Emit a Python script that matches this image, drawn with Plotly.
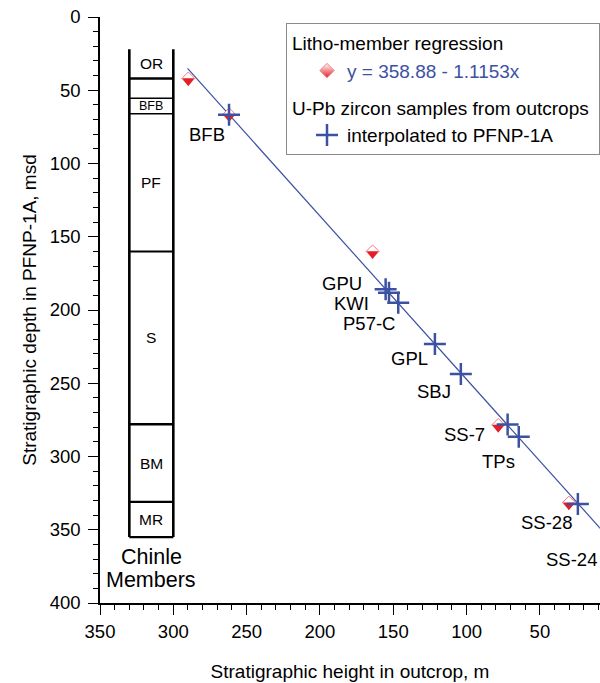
import plotly.graph_objects as go

# ---------------- data ----------------
# Chinle members (depth in PFNP-1A, msd)
member_names = ["OR", "", "BFB", "PF", "S", "BM", "MR"]
member_tops = [22, 42, 55.5, 66, 160, 278, 331]
member_bottoms = [42, 55.5, 66, 160, 278, 331, 355]

# Litho-member regression points (outcrop height m, core depth msd)
litho_height = [289.8, 261.9, 164.1, 78.4, 30.2]
litho_depth = [42, 66.5, 160, 278.5, 331.5]

# U-Pb zircon samples interpolated to PFNP-1A
sample_names = ["BFB", "GPU", "KWI", "P57-C", "GPL", "SBJ", "SS-7", "TPs", "SS-28", "SS-24"]
sample_height = [262.0, 155.2, 152.9, 146.6, 121.6, 103.9, 72.0, 64.4, 24.1, 1.0]
sample_depth = [66.8, 185.9, 188.2, 195.0, 223.2, 243.7, 278.1, 286.6, 332.5, 358.0]

# regression y = 358.88 - 1.1153x
reg_intercept = 358.88
reg_slope = -1.1153
reg_x_ends = [290.3, 0.0]

# ---------------- layout constants ----------------
W, H = 600, 683
ML, MR, MT, MB = 100, 0, 17, 80
X_RANGE = [350, 9]
Y_RANGE = [400, 0]
PX_PER_UNIT = (H - MT - MB) / 400.0
FONT = "Liberation Sans, Arial, Helvetica, sans-serif"
FS = 18.5
LFS = 19
BLUE = "#3d51a3"
RED = "#e31e24"
PINK = "#ef7a7c"

COL_LEFT, COL_RIGHT = 330, 300
COL_MID = (COL_LEFT + COL_RIGHT) / 2

# label offsets (pixels, right edge of text relative to cross)
label_offsets = {
    "BFB": (-2, -20), "GPU": (-22, 6), "KWI": (-18, -10.5), "P57-C": (-1, -20.5),
    "GPL": (-5, -15), "SBJ": (-8, -17), "SS-7": (-21, -10.5), "TPs": (-2, -25),
    "SS-28": (-4, -18), "SS-24": (-1, -18),
}

fig = go.Figure()

# regression line
fig.add_trace(go.Scatter(
    x=reg_x_ends, y=[reg_intercept + reg_slope * v for v in reg_x_ends],
    mode="lines", line=dict(color=BLUE, width=1.2), showlegend=False, hoverinfo="skip"))

# litho points: outline diamond + filled lower half
fig.add_trace(go.Scatter(
    x=litho_height, y=litho_depth, mode="markers", showlegend=False,
    marker=dict(symbol="diamond", size=10, color="white", line=dict(color=PINK, width=1))))
tri_shift = 2.4 / PX_PER_UNIT
fig.add_trace(go.Scatter(
    x=litho_height, y=[d + tri_shift for d in litho_depth], mode="markers", showlegend=False,
    marker=dict(symbol="triangle-down", size=10.5, color=RED, line=dict(width=0))))

# legend-only diamond
fig.add_trace(go.Scatter(
    x=[None], y=[None], mode="markers", legendgroup="litho",
    legendgrouptitle=dict(text="Litho-member regression", font=dict(size=LFS, color="black")),
    name="<span style='color:%s'>y = 358.88 - 1.1153x</span>" % BLUE,
    marker=dict(symbol="diamond", size=11, color="white", line=dict(color=PINK, width=1),
                gradient=dict(type="vertical", color=RED))))

# U-Pb crosses
fig.add_trace(go.Scatter(
    x=sample_height, y=sample_depth, mode="markers", legendgroup="upb",
    legendgrouptitle=dict(text="U-Pb zircon samples from outcrops", font=dict(size=LFS, color="black")),
    name="interpolated to PFNP-1A",
    marker=dict(symbol="cross-thin", size=15.7, color=BLUE, line=dict(color=BLUE, width=2.5))))

annotations = []
for n, xv, yv in zip(sample_names, sample_height, sample_depth):
    dx, dy = label_offsets[n]
    if xv < min(X_RANGE):
        annotations.append(dict(x=1, xref="paper", y=yv, yref="y", text=n, showarrow=False,
                                xanchor="right", yanchor="middle", xshift=dx, yshift=dy,
                                font=dict(size=FS, color="black", family=FONT)))
    else:
        annotations.append(dict(x=xv, y=yv, xref="x", yref="y", text=n, showarrow=False,
                                xanchor="right", yanchor="middle", xshift=dx, yshift=dy,
                                font=dict(size=FS, color="black", family=FONT)))

# Chinle column
shapes = []
col_top, col_bot = member_tops[0], member_bottoms[-1]
for xc in (COL_LEFT, COL_RIGHT):
    shapes.append(dict(type="line", xref="x", yref="y", x0=xc, x1=xc, y0=col_top, y1=col_bot,
                       line=dict(color="black", width=2.6)))
boundary_widths = [2.6, 1.4, 1.4, 2.0, 2.4, 2.4, 2.4]
for b, w in zip(member_bottoms, boundary_widths):
    shapes.append(dict(type="line", xref="x", yref="y", x0=COL_LEFT, x1=COL_RIGHT, y0=b, y1=b,
                       line=dict(color="black", width=w)))
for n, t, b in zip(member_names, member_tops, member_bottoms):
    if not n:
        continue
    annotations.append(dict(x=COL_MID, y=(t + b) / 2, xref="x", yref="y", text=n, showarrow=False,
                            font=dict(size=12.5 if n == "BFB" else 15.5, color="black", family=FONT)))
annotations.append(dict(x=COL_MID, y=col_bot, xref="x", yref="y", text="Chinle", showarrow=False,
                        yanchor="middle", yshift=-20, font=dict(size=21.5, color="black", family=FONT)))
annotations.append(dict(x=COL_MID, y=col_bot, xref="x", yref="y", text="Members", showarrow=False,
                        yanchor="middle", yshift=-43, font=dict(size=21.5, color="black", family=FONT)))

axis_common = dict(showline=True, linecolor="black", linewidth=1.5, ticks="outside", ticklen=10,
                   tickwidth=1.2, tickcolor="black", showgrid=False, zeroline=False, dtick=50,
                   tickfont=dict(size=FS, color="black", family=FONT),
                   minor=dict(ticks="outside", ticklen=5, tickwidth=1.2, tickcolor="black", dtick=10,
                              showgrid=False))

fig.update_layout(
    width=W, height=H, margin=dict(l=ML, r=MR, t=MT, b=MB),
    paper_bgcolor="white", plot_bgcolor="white",
    font=dict(family=FONT, size=FS, color="black"),
    xaxis=dict(range=X_RANGE, tick0=0, ticklabelstandoff=1,
               title=dict(text="Stratigraphic height in outcrop, m", font=dict(size=19), standoff=24),
               **axis_common),
    yaxis=dict(range=Y_RANGE, tick0=0, ticklabelstandoff=4,
               title=dict(text="Stratigraphic depth in PFNP-1A, msd", font=dict(size=19), standoff=8),
               **axis_common),
    legend=dict(x=1, y=1 - (23 - MT) / (H - MT - MB), xanchor="right",
                yanchor="top", bordercolor="#8a8a8a", borderwidth=1, bgcolor="white",
                font=dict(size=LFS, color="black", family=FONT), traceorder="grouped",
                tracegroupgap=9, itemwidth=30, indentation=20),
    shapes=shapes, annotations=annotations, showlegend=True,
)

fig.write_html("out.html", config={"displayModeBar": False},
               post_script="document.body.style.margin='0';document.body.style.overflow='hidden';")
